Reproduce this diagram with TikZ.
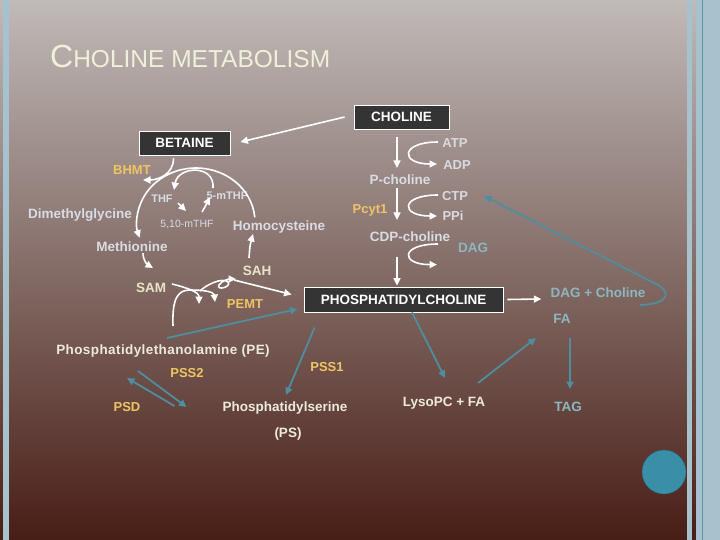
\documentclass[tikz,border=0pt]{standalone}
\usepackage{fontspec}
\setmainfont{Liberation Sans}
\usetikzlibrary{arrows.meta, positioning}
\definecolor{boxgray}{RGB}{52,52,52}
\definecolor{metabtext}{RGB}{216,221,228}
\definecolor{creamtext}{RGB}{232,228,200}
\definecolor{lipidtext}{RGB}{236,234,222}
\definecolor{enzorange}{RGB}{240,196,100}
\definecolor{tealtext}{RGB}{140,182,192}
\definecolor{tealline}{RGB}{78,142,158}
\definecolor{cofactext}{RGB}{216,218,222}
\definecolor{titlecream}{RGB}{240,240,218}
\definecolor{bgtop}{RGB}{192,186,184}
\definecolor{bgbot}{RGB}{72,30,22}
\definecolor{stripblue}{RGB}{168,194,205}
\definecolor{stripline}{RGB}{96,146,168}
\definecolor{dotteal}{RGB}{58,142,168}
\tikzset{
  metbox/.style={
    draw=white, fill=boxgray, text=white,
    font=\fontsize{13.5}{16}\selectfont\bfseries,
    line width=0.8pt, inner sep=0pt, minimum height=24pt,
    text height=9.7pt, text depth=0pt
  },
  metab/.style={
    text=metabtext, font=\fontsize{13.5}{16}\selectfont\bfseries,
    inner sep=1pt, text height=9.7pt, text depth=0pt
  },
  lipid/.style={metab, text=lipidtext},
  cream/.style={metab, text=creamtext},
  cofac/.style={metab, text=cofactext, font=\fontsize{13}{15}\selectfont\bfseries},
  enz/.style={metab, text=enzorange, font=\fontsize{13}{15}\selectfont\bfseries},
  tealtxt/.style={metab, text=tealtext},
  folate/.style={
    text=metabtext, font=\fontsize{11}{13}\selectfont\bfseries,
    inner sep=1pt, text height=7.9pt, text depth=0pt
  },
  folatethin/.style={folate, font=\fontsize{10.5}{12}\selectfont}
}
\tikzset{
  wire/.style={-{Triangle[length=7.5pt,width=7pt]}, white, line width=1.6pt},
  tealwire/.style={-{Triangle[length=7.5pt,width=7pt]}, tealline, line width=1.8pt}
}

\begin{document}
\begin{tikzpicture}[x=1pt, y=-1pt]
  % Slide background
  \useasboundingbox (0,0) rectangle (720,540);
  \shade[top color=bgtop, bottom color=bgbot] (0,0) rectangle (720,540);
  \fill[stripblue] (3,0) rectangle (9,540);
  \fill[stripblue] (687,0) rectangle (692,540);
  \fill[stripblue] (696,0) rectangle (720,540);
  \draw[stripline, line width=0.8pt] (702,0) -- (702,540);

  % Title
  \node[anchor=base west, text=titlecream, inner sep=0pt] (title) at (50,68)
    {{\fontsize{32}{32}\selectfont C}{\fontsize{24.5}{24.5}\selectfont HOLINE METABOLISM}};

  % Boxes
  \node[metbox, minimum width=95pt]  (choline) at (401.5,117) {CHOLINE};
  \node[metbox, minimum width=91pt]  (betaine) at (184.5,143) {BETAINE};
  \node[metbox, minimum width=199pt, minimum height=25pt] (pc) at (403.5,299.5) {PHOSPHATIDYLCHOLINE};

  % Methionine cycle
  \node[metab] (dmg) at (80,214)  {Dimethylglycine};
  \node[metab] (met) at (132,247) {Methionine};
  \node[metab] (hcy) at (279,226) {Homocysteine};
  \node[enz]   (bhmt) at (132,170) {BHMT};
  \node[folate] (thf)  at (162,199) {THF};
  \node[folate] (mthf) at (227,196) {5-mTHF};
  \node[folatethin] (mthften) at (187,224) {5,10-mTHF};
  \node[cream] (sah) at (257,271) {SAH};
  \node[cream] (sam) at (151,288) {SAM};
  \node[enz]   (pemt) at (245,304) {PEMT};
  \coordinate (cyc) at (196,222);

  % CDP-choline pathway
  \node[metab] (pcho) at (400,180) {P-choline};
  \node[metab] (cdp)  at (410,237) {CDP-choline};
  \node[cofac] (atp)  at (455,143) {ATP};
  \node[cofac] (adp)  at (457,165) {ADP};
  \node[cofac] (ctp)  at (455,196) {CTP};
  \node[cofac] (ppi)  at (453,216) {PPi};
  \node[enz]   (pcyt) at (370,209) {Pcyt1};
  \node[tealtxt] (dag) at (473,248) {DAG};

  % PE and PS
  \node[lipid, font=\fontsize{13.5}{16}\selectfont\bfseries\addfontfeature{LetterSpace=3}]
    (pe) at (163,350) {Phosphatidylethanolamine (PE)};
  \node[lipid] (ps)   at (285,407) {Phosphatidylserine};
  \node[lipid] (pstag) at (288,433) {(PS)};
  \node[enz]   (pss1) at (327,367) {PSS1};
  \node[enz]   (pss2) at (187,373) {PSS2};
  \node[enz]   (psd)  at (127,407) {PSD};

  % Breakdown side
  \node[tealtxt] (dagcho) at (598,293) {DAG + Choline};
  \node[tealtxt] (fa)     at (562,319) {FA};
  \node[tealtxt] (tag)    at (568,407) {TAG};
  \node[lipid]   (lyso)   at (444,402) {LysoPC + FA};
  \node[circle, fill=dotteal, draw=dotteal!70!black, line width=0.4pt,
        minimum size=44pt, inner sep=0pt] (dot) at (664,472) {};

  % White wires
  \draw[wire] ([shift={(-9,0)}]choline.west) -- ([shift={(10,-1)}]betaine.east);
  \draw[wire] ([shift={(-11,3)}]betaine.south) .. controls +(0,16) and +(15,0) .. ([shift={(11,10)}]bhmt.center);
  \draw[wire] (cyc) ++(-5:59 and 54) arc[start angle=-5, end angle=-197, x radius=59, y radius=54];
  \draw[wire] ([shift={(11,0)}]met.south) .. controls +(0,8) and +(-5,-3) .. ([shift={(2,-20)}]sam.center);
  \draw[wire] ([shift={(-14,-8)}]mthf.center) .. controls +(2,-24) and +(4,-24) .. ([shift={(12,-9)}]thf.center);
  \draw[wire] ([shift={(16,4)}]thf.center) -- ([shift={(-1,-13)}]mthften.center);
  \draw[wire] ([shift={(15,-12)}]mthften.center) .. controls +(4,-7) .. ([shift={(-17,1)}]mthf.center);
  \draw[wire] ([shift={(-8,-13)}]sah.center) .. controls +(1,-13) .. ([shift={(-26,8)}]hcy.center);

  % PEMT steps
  \draw[wire] ([shift={(21,-4)}]sam.center) .. controls +(16,4) and +(0,-12) .. ([shift={(-46,0)}]pemt.center);
  \draw[wire] ([shift={(10,-24)}]pe.center) .. controls +(-1,-28) and +(-12,0) .. (190,290)
    .. controls +(15,0) and +(-1,-10) .. ([shift={(-30,-2)}]pemt.center);
  \draw[wire] ([shift={(-45,-13)}]pemt.center) .. controls +(6,-6) and +(-6,-5) .. (228,282)
    .. controls +(4,5) and +(-3,6) .. (219,285) .. controls +(3,-5) and +(-6,0) .. ([shift={(-21,8)}]sah.center);
  \draw[wire] ([shift={(-23,9)}]sah.center) -- ([shift={(-12,-5)}]pc.west);

  % CDP-choline wires
  \draw[wire] ([shift={(-4.5,8)}]choline.south) -- ([shift={(-3,-12)}]pcho.center);
  \draw[wire] ([shift={(-3,8)}]pcho.center) -- ([shift={(-13,-17)}]cdp.center);
  \draw[wire] ([shift={(-13,20)}]cdp.center) -- ([shift={(-6.5,-1)}]pc.north);
  \draw[wire] ([shift={(-17,-1)}]atp.center) .. controls +(-38,0) and +(-37,0) .. ([shift={(-20,-1)}]adp.center);
  \draw[wire] ([shift={(-17,-1)}]ctp.center) .. controls +(-38,0) and +(-37,0) .. ([shift={(-16,0)}]ppi.center);
  \draw[wire] ([shift={(-35,-4)}]dag.center) .. controls +(-38,0) and +(-37,0) .. ([shift={(33.5,-22)}]pc.north);
  \draw[wire] ([shift={(4,0)}]pc.east) -- ([shift={(-8,6)}]dagcho.west);

  % Teal wires
  \draw[tealwire] ([shift={(4,-12)}]pe.center) -- ([shift={(-6,9.5)}]pc.west);
  \draw[tealwire] ([shift={(11,15)}]pc.south west) -- ([shift={(1,-12)}]ps.center);
  \draw[tealwire] ([shift={(-25,21)}]pe.center) -- ([shift={(-35,0)}]ps.west);
  \draw[tealwire] ([shift={(-47,-1)}]ps.west) -- ([shift={(-36,28)}]pe.center);
  \draw[tealwire] ([shift={(8.5,0)}]pc.south) -- ([shift={(1,-24)}]lyso.center);
  \draw[tealwire] ([shift={(34,-19)}]lyso.center) -- ([shift={(-26,19)}]fa.center);
  \draw[tealwire] ([shift={(8,19)}]fa.center) -- ([shift={(2,-18)}]tag.center);
  \draw[tealwire] ([shift={(42,12)}]dagcho.center) .. controls +(32,-1) and +(20,8) .. (652,282)
    -- ([shift={(29,0)}]ctp.center);
\end{tikzpicture}
\end{document}
